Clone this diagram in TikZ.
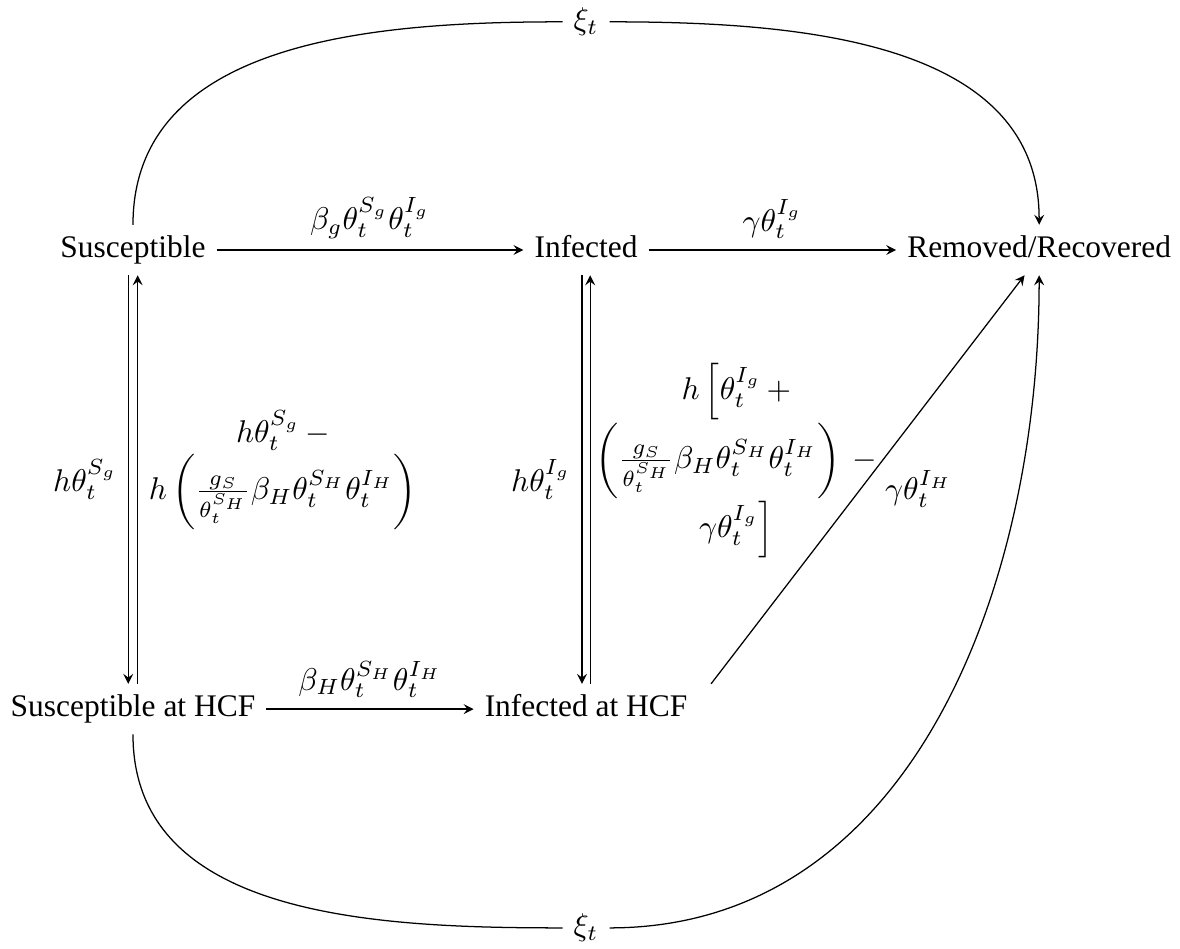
\documentclass[tikz,border=0pt]{standalone}
\usepackage{amsmath}
\usepackage{fontspec}
\setmainfont{Liberation Serif}
\usetikzlibrary{positioning}

\begin{document}
\begin{tikzpicture}[
  node distance=5.13cm and 5.063cm, on grid,
  state/.style={text height=7pt, text depth=2pt},
  arr/.style={->, >=stealth}
]
\useasboundingbox (-1.486,-7.80) rectangle (11.70,2.794);

% Compartments
\node[state] (sus) {Susceptible};
\node[state, right=of sus] (inf) {Infected};
\node[state, right=of inf] (rem) {Removed/Recovered};
\node[state, below=of sus] (sush) {Susceptible at HCF};
\node[state, below=of inf] (infh) {Infected at HCF};

% Outflow labels on the long arcs
\node (xitop) at (5.063,2.55) {$\xi_t$};
\node (xibot) at (5.063,-7.575) {$\xi_t$};

% Horizontal flows
\draw[arr] (sus) -- node[above] {$\beta_g\theta_t^{S_g}\theta_t^{I_g}$} (inf);
\draw[arr] (inf) -- node[above] {$\gamma\theta_t^{I_g}$} (rem);
\draw[arr] (sush) -- node[above] {$\beta_H\theta_t^{S_H}\theta_t^{I_H}$} (infh);

% Moves to and from the HCF
\draw[arr] ([xshift=-1.5pt]sus.south) -- node[left] {$h\theta_t^{S_g}$} ([xshift=-1.5pt]sush.north);
\draw[arr] ([xshift=1.5pt]sush.north) -- node[right, align=center, yshift=3pt] {%
  $h\theta_t^{S_g}\mskip\thinmuskip-$\\
  $h\left(\frac{g_S}{\theta_t^{S_H}}\beta_H\theta_t^{S_H}\theta_t^{I_H}\right)$} ([xshift=1.5pt]sus.south);
\draw[arr] ([xshift=-1.3pt]inf.south) -- node[left] {$h\theta_t^{I_g}$} ([xshift=-1.3pt]infh.north);
\draw[arr] ([xshift=1.3pt]infh.north) -- node[right, align=center, inner sep=1.5pt, yshift=6pt] {%
  $h\,\Big[\theta_t^{I_g}\mskip\thinmuskip+$\\
  $\left(\frac{g_S}{\theta_t^{S_H}}\beta_H\theta_t^{S_H}\theta_t^{I_H}\right)\mskip\medmuskip-$\\
  $\gamma\theta_t^{I_g}\Big]$} ([xshift=1.3pt]inf.south);

% Removal from the HCF
\draw[arr] ([xshift=4pt]infh.north east) -- node[right, xshift=2pt, yshift=-3pt] {$\gamma\theta_t^{I_H}$} (rem.240);

% Long arcs
\draw (sus.north) to[out=90, in=180] (xitop);
\draw[arr] (xitop) to[out=0, in=90] (rem.north);
\draw (sush.south) to[out=-90, in=180] (xibot);
\draw[arr] (xibot) to[out=0, in=-90] (rem.south);
\end{tikzpicture}
\end{document}
